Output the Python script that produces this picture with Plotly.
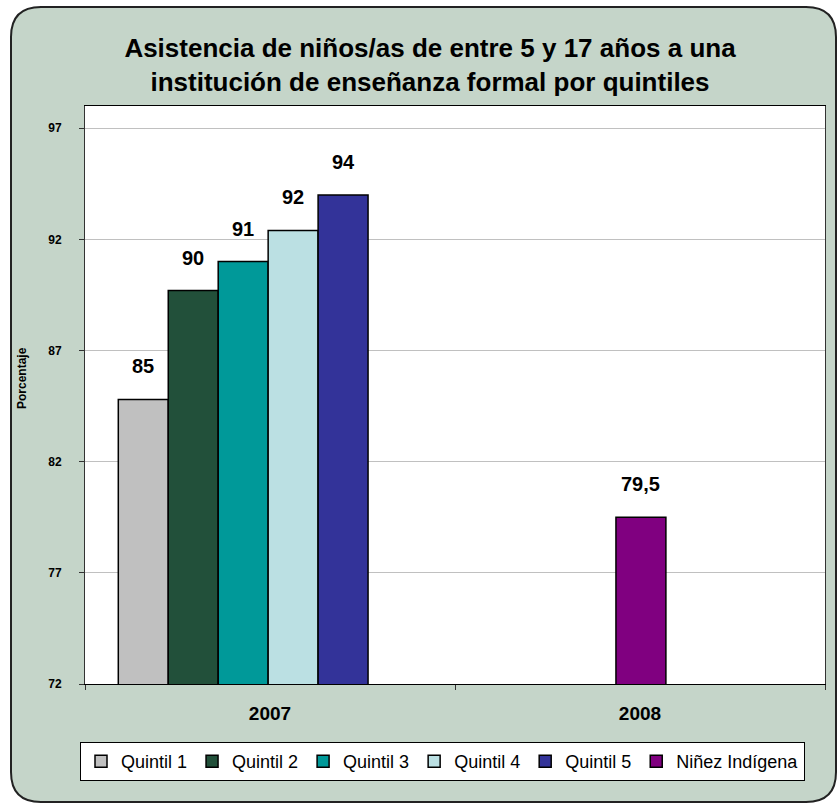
import plotly.graph_objects as go

# ---- data ----
categories = ["2007", "2008"]
series_names = ["Quintil 1", "Quintil 2", "Quintil 3", "Quintil 4", "Quintil 5", "Niñez Indígena"]
series_cat = ["2007", "2007", "2007", "2007", "2007", "2008"]
series_values = [84.8, 89.7, 91.0, 92.4, 94.0, 79.5]
series_labels = ["85", "90", "91", "92", "94", "79,5"]
y_ticks = [72, 77, 82, 87, 92, 97]

# ---- style ----
colors = ["#c0c0c0", "#22503a", "#009999", "#bbe0e3", "#333399", "#800080"]
bar_w = 0.135
offsets = [-0.41, -0.41 + bar_w, -0.41 + 2 * bar_w, -0.41 + 3 * bar_w, -0.41 + 4 * bar_w, -0.065]
FONT = "Liberation Sans, Arial, sans-serif"
BG = "#c5d5c9"

W, H = 837, 805
ML, MR, MT, MB = 85, 12, 106, 121
PW, PH = W - ML - MR, H - MT - MB


def px(x):
    return (x - ML) / PW


def py(y):
    return (H - MB - y) / PH


fig = go.Figure()
for name, cat, val, col, off in zip(series_names, series_cat, series_values, colors, offsets):
    fig.add_trace(go.Bar(
        name=name, x=[cat], y=[val], width=bar_w, offset=off,
        marker=dict(color=col, line=dict(color="black", width=1.5)),
        hoverinfo="skip",
    ))

annotations = []
for cat, val, lab, off in zip(series_cat, series_values, series_labels, offsets):
    annotations.append(dict(
        x=categories.index(cat) + off + bar_w / 2, y=val, xref="x", yref="y",
        text=lab, showarrow=False, yshift=33, yanchor="middle",
        font=dict(family=FONT, size=20, color="black", weight="bold"),
    ))
annotations.append(dict(
    text="Porcentaje", x=px(22), y=py(378), xref="paper", yref="paper",
    textangle=-90, showarrow=False, xanchor="center", yanchor="middle",
    font=dict(family=FONT, size=12, color="black", weight="bold"),
))

# rounded outer frame
L, T, R, B, r = 11, 7, 836, 802, 30
path = (
    f"M {px(L + r)} {py(T)} L {px(R - r)} {py(T)} Q {px(R)} {py(T)} {px(R)} {py(T + r)} "
    f"L {px(R)} {py(B - r)} Q {px(R)} {py(B)} {px(R - r)} {py(B)} "
    f"L {px(L + r)} {py(B)} Q {px(L)} {py(B)} {px(L)} {py(B - r)} "
    f"L {px(L)} {py(T + r)} Q {px(L)} {py(T)} {px(L + r)} {py(T)} Z"
)
shapes = [
    dict(type="path", path=path, xref="paper", yref="paper", layer="below",
         fillcolor=BG, line=dict(color="#222222", width=2)),
    dict(type="rect", x0=0, x1=1, y0=0, y1=1, xref="paper", yref="paper", layer="below",
         fillcolor="white", line=dict(width=0)),
]

fig.update_layout(
    width=W, height=H,
    margin=dict(l=ML, r=MR, t=MT, b=MB),
    paper_bgcolor="white", plot_bgcolor="rgba(0,0,0,0)",
    barmode="overlay",
    title=dict(
        text="Asistencia de niños/as de entre 5 y 17 años a una<br>institución de enseñanza formal por quintiles",
        x=430 / W, xanchor="center", y=1 - 57 / H, yanchor="middle", yref="container",
        font=dict(family=FONT, size=26, color="black", weight="bold"),
    ),
    xaxis=dict(
        type="category", categoryorder="array", categoryarray=categories,
        range=[-0.5, 1.5], tickson="boundaries", ticks="outside", ticklen=5,
        tickcolor="#333333", showline=True, linecolor="black", linewidth=1, mirror=True,
        showgrid=False, ticklabelstandoff=12,
        tickfont=dict(family=FONT, size=19, color="black", weight="bold"),
    ),
    yaxis=dict(
        range=[72, 98], tickvals=y_ticks, ticks="outside", ticklen=5, tickcolor="#333333",
        showline=True, linecolor="#333333", linewidth=1, mirror=True,
        showgrid=True, gridcolor="#c0c0c0", gridwidth=1, zeroline=False,
        ticklabelstandoff=15,
        tickfont=dict(family=FONT, size=12, color="black", weight="bold"),
    ),
    legend=dict(
        orientation="h", x=px(442.5), xanchor="center", y=py(742), yanchor="top",
        bgcolor="white", bordercolor="black", borderwidth=1,
        font=dict(family=FONT, size=18, color="black"),
        itemwidth=30, tracegroupgap=0, traceorder="normal",
    ),
    annotations=annotations,
    shapes=shapes,
    showlegend=True,
)

fig.write_html("out.html", config={"displayModeBar": False},
               post_script="document.body.style.margin='0px';")
